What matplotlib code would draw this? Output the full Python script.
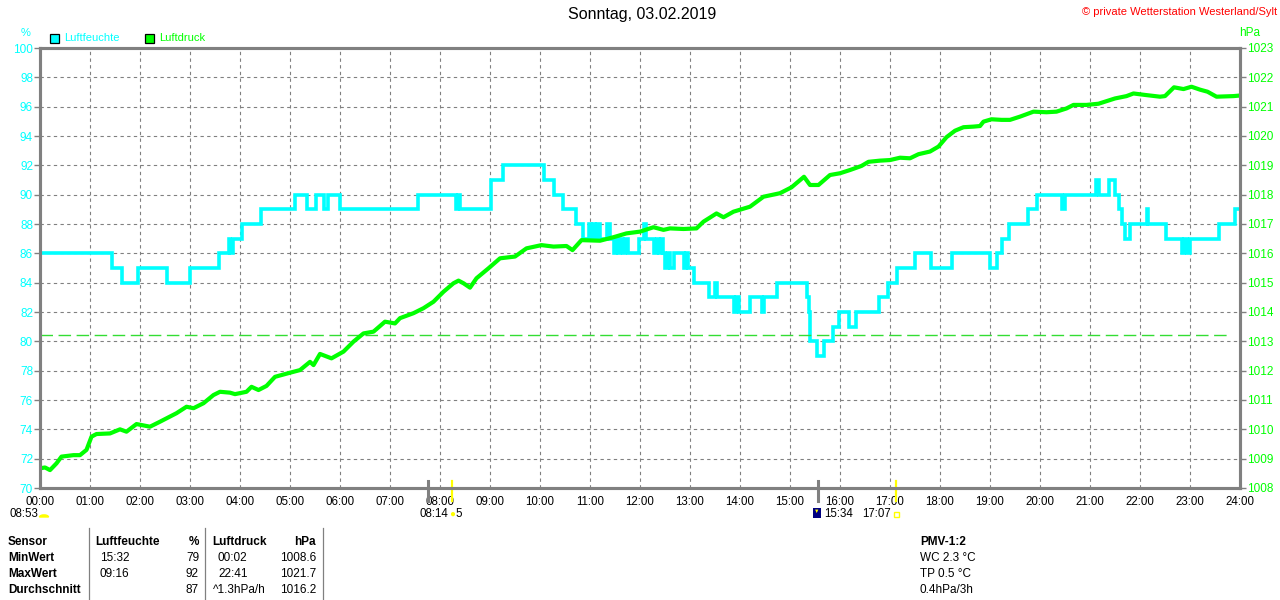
import matplotlib.pyplot as plt
from matplotlib.patches import Rectangle, Wedge

plt.rcParams['font.family'] = ['Liberation Sans', 'DejaVu Sans']

CYAN = '#00FFFF'
GREEN = '#00FF00'
GRAY = '#808080'

# Luftfeuchte (%) - Zeitpunkte der Stufenwechsel in Stunden
hum_time = [0.00, 1.43, 1.63, 1.95, 2.53, 3.00, 3.58, 3.77, 3.80, 3.85, 4.04, 4.41,
            5.10, 5.33, 5.52, 5.68, 5.75, 6.00, 7.55, 8.32, 8.36, 8.40, 9.01, 9.25,
            10.08, 10.28, 10.45, 10.71, 10.85, 10.98, 11.02, 11.05, 11.10, 11.13, 11.20,
            11.33, 11.40, 11.47, 11.52, 11.56, 11.60, 11.65, 11.70, 11.75, 11.97, 12.08,
            12.12, 12.27, 12.33, 12.38, 12.42, 12.46, 12.50, 12.55, 12.60, 12.67, 12.87,
            12.92, 12.96, 13.07, 13.37, 13.50, 13.53, 13.87, 13.92, 13.97, 14.20, 14.43,
            14.48, 14.73, 15.33, 15.37, 15.40, 15.53, 15.67, 15.85, 15.97, 16.17, 16.32,
            16.77, 16.95, 17.13, 17.50, 17.83, 18.23, 19.00, 19.13, 19.23, 19.37, 19.75,
            19.93, 20.43, 20.50, 21.12, 21.17, 21.37, 21.49, 21.57, 21.63, 21.70, 21.80,
            22.13, 22.16, 22.51, 22.83, 22.88, 22.93, 23.00, 23.57, 23.90, 24.00]
hum_value = [86, 85, 84, 85, 84, 85, 86, 87, 86, 87, 88, 89,
             90, 89, 90, 89, 90, 89, 90, 89, 90, 89, 91, 92,
             91, 90, 89, 88, 87, 88, 87, 88, 87, 88, 87,
             88, 87, 86, 87, 86, 87, 86, 87, 86, 87, 88,
             87, 86, 87, 86, 87, 86, 85, 86, 85, 86, 85,
             86, 85, 84, 83, 84, 83, 82, 83, 82, 83, 82,
             83, 84, 83, 82, 80, 79, 80, 81, 82, 81, 82,
             83, 84, 85, 86, 85, 86, 85, 86, 87, 88, 89,
             90, 89, 90, 91, 90, 91, 90, 89, 88, 87, 88,
             89, 88, 87, 86, 87, 86, 87, 88, 89, 89]

# Luftdruck (hPa)
pres_time = [0.00, 0.10, 0.20, 0.33, 0.43, 0.67, 0.80, 0.93, 1.03, 1.13, 1.40, 1.60,
             1.73, 1.93, 2.20, 2.40, 2.73, 2.93, 3.07, 3.27, 3.47, 3.60, 3.80, 3.90,
             4.13, 4.23, 4.37, 4.53, 4.70, 5.00, 5.20, 5.40, 5.47, 5.60, 5.83, 6.07,
             6.27, 6.47, 6.67, 6.90, 7.10, 7.20, 7.47, 7.67, 7.87, 8.07, 8.27, 8.37,
             8.47, 8.60, 8.73, 8.97, 9.20, 9.50, 9.73, 10.03, 10.27, 10.53, 10.65, 10.83,
             11.20, 11.47, 11.73, 12.00, 12.27, 12.47, 12.60, 12.87, 13.13, 13.27, 13.53,
             13.67, 13.87, 14.20, 14.47, 14.80, 15.03, 15.28, 15.40, 15.57, 15.80, 16.00,
             16.20, 16.43, 16.57, 16.80, 17.00, 17.20, 17.40, 17.57, 17.80, 17.97, 18.13,
             18.30, 18.47, 18.67, 18.80, 18.87, 19.03, 19.23, 19.40, 19.60, 19.87, 20.13,
             20.33, 20.53, 20.67, 20.93, 21.17, 21.50, 21.73, 21.87, 22.10, 22.40, 22.50,
             22.68, 22.87, 23.03, 23.20, 23.35, 23.53, 23.87, 24.00]
pres_value = [1008.67, 1008.70, 1008.61, 1008.84, 1009.07, 1009.12, 1009.12, 1009.30, 1009.75,
              1009.84, 1009.86, 1010.00, 1009.92, 1010.18, 1010.09, 1010.26, 1010.55, 1010.77,
              1010.72, 1010.89, 1011.17, 1011.28, 1011.25, 1011.20, 1011.28, 1011.45, 1011.34,
              1011.48, 1011.79, 1011.93, 1012.02, 1012.30, 1012.19, 1012.57, 1012.42, 1012.65,
              1012.99, 1013.27, 1013.33, 1013.67, 1013.61, 1013.79, 1013.96, 1014.13, 1014.35,
              1014.69, 1014.98, 1015.07, 1014.98, 1014.83, 1015.15, 1015.49, 1015.83, 1015.89,
              1016.17, 1016.28, 1016.23, 1016.25, 1016.11, 1016.45, 1016.43, 1016.55, 1016.68,
              1016.74, 1016.89, 1016.80, 1016.85, 1016.83, 1016.85, 1017.08, 1017.36, 1017.23,
              1017.42, 1017.59, 1017.93, 1018.05, 1018.25, 1018.61, 1018.33, 1018.33, 1018.67,
              1018.73, 1018.84, 1018.98, 1019.12, 1019.16, 1019.18, 1019.26, 1019.24, 1019.38,
              1019.47, 1019.64, 1019.96, 1020.18, 1020.30, 1020.32, 1020.34, 1020.49, 1020.57,
              1020.55, 1020.55, 1020.66, 1020.83, 1020.81, 1020.83, 1020.94, 1021.06, 1021.06,
              1021.10, 1021.28, 1021.36, 1021.45, 1021.40, 1021.34, 1021.36, 1021.66, 1021.60,
              1021.68, 1021.58, 1021.51, 1021.34, 1021.36, 1021.38]

ref_pressure = 1013.22
hour_labels = ['%02d:00' % h for h in range(25)]

# Sonnen-/Mondmarken an der Zeitachse (Stunde, Farbe)
event_time = [7.76, 8.24, 15.56, 17.12]
event_color = [GRAY, '#FFFF00', GRAY, '#FFFF00']

# Tabelle unten
table_rows = ['Sensor', 'MinWert', 'MaxWert', 'Durchschnitt']
hum_col_time = ['Luftfeuchte', '15:32', '09:16', '']
hum_col_val = ['%', '79', '92', '87']
pres_col_time = ['Luftdruck', '00:02', '22:41', '^1.3hPa/h']
pres_col_val = ['hPa', '1008.6', '1021.7', '1016.2']
pmv_lines = ['PMV-1:2', 'WC 2.3 °C', 'TP 0.5 °C', '0.4hPa/3h']

W, H = 1280, 600
fig = plt.figure(figsize=(W / 100, H / 100), dpi=100)
ax = fig.add_axes([40 / W, 1 - 488 / H, 1200 / W, 440 / H])
ax2 = ax.twinx()


def px(x, y):
    return x / W, 1 - y / H


# Gitter
ax.set_xlim(0, 24)
ax.set_ylim(70, 100)
ax.set_xticks(range(25))
ax.set_xticklabels(hour_labels)
ax.set_yticks(range(70, 101, 2))
ax.grid(True, color=GRAY, linestyle=(0, (3, 3)), linewidth=0.8)
ax.tick_params(axis='x', length=0, pad=6, labelsize=8.3, colors='black')
ax.tick_params(axis='y', length=4, width=1, color=GRAY, labelsize=8.5, labelcolor=CYAN, pad=1)

ax2.set_ylim(1008, 1023)
ax2.set_yticks(range(1008, 1024))
ax2.tick_params(axis='y', length=4, width=1, color=GRAY, labelsize=8.5, labelcolor=GREEN, pad=1)

for a in (ax, ax2):
    for s in a.spines.values():
        s.set_color(GRAY)
        s.set_linewidth(2.2)

# Daten
ax.plot(hum_time, hum_value, drawstyle='steps-post', color=CYAN, linewidth=2.6,
        solid_joinstyle='miter')
ax2.axhline(ref_pressure, xmin=0, xmax=(1230 - 40) / 1200, color='#33DD33',
            linewidth=1, linestyle=(0, (9, 4)))
ax2.plot(pres_time, pres_value, color=GREEN, linewidth=3.0)

# Marken an der Zeitachse
trans = ax.get_xaxis_transform()
for t, c in zip(event_time, event_color):
    lw = 2.2 if c == GRAY else 1.6
    ax.plot([t, t], [0.015, -0.03], color=c, linewidth=lw, transform=trans, clip_on=False)

# Titel und Beschriftungen
fig.text(*px(642, 15), 'Sonntag, 03.02.2019', ha='center', va='center', fontsize=11.5)
fig.text(*px(1277, 12), '© private Wetterstation Westerland/Sylt', ha='right', va='center',
         fontsize=8, color='#FF0000')
fig.text(*px(26, 33), '%', ha='center', va='center', fontsize=8, color=CYAN)
fig.text(*px(1250, 33), 'hPa', ha='center', va='center', fontsize=8.5, color=GREEN)

# Legende
for x0, label, col in [(50, 'Luftfeuchte', CYAN), (145, 'Luftdruck', GREEN)]:
    fig.patches.append(Rectangle(px(x0, 43), 9 / W, 9 / H, transform=fig.transFigure,
                                 facecolor=col, edgecolor='black', linewidth=0.9))
    fig.text(*px(x0 + 14, 38), label, ha='left', va='center', fontsize=8, color=col)

# Sonnenauf-/untergang
fig.text(*px(10, 514), '08:53', ha='left', va='center', fontsize=8.3)
fig.patches.append(Wedge(px(44, 517), 4.5 / W, 0, 180,
                         transform=fig.transFigure, color='#FFFF00'))
fig.text(*px(419, 514), '08:14', ha='left', va='center', fontsize=8.3)
fig.text(*px(455, 514), '5', ha='left', va='center', fontsize=8.3)
fig.text(*px(452, 514), '●', ha='center', va='center', fontsize=7, color='#FFFF00')
fig.patches.append(Rectangle(px(813, 518), 8 / W, 10 / H, transform=fig.transFigure,
                             facecolor='#000080', edgecolor='none'))
fig.text(*px(817, 511), '▼', ha='center', va='center', fontsize=4, color='#FFFF00')
fig.text(*px(824, 514), '15:34', ha='left', va='center', fontsize=8.3)
fig.text(*px(862, 514), '17:07', ha='left', va='center', fontsize=8.3)
fig.patches.append(Rectangle(px(894, 517), 5 / W, 5 / H, transform=fig.transFigure,
                             facecolor='none', edgecolor='#FFFF00', linewidth=1))

# Tabelle
row_y = [542, 558, 574, 590]
for i, y in enumerate(row_y):
    fig.text(*px(8, y), table_rows[i], ha='left', va='center', fontsize=8.5, fontweight='bold')
    bold = 'bold' if i == 0 else 'normal'
    x_ht = 95 if i == 0 else 100
    x_pt = 212 if i == 0 else 218
    if i == 3:
        x_pt = 213
    fig.text(*px(x_ht, y), hum_col_time[i], ha='left', va='center', fontsize=8.5, fontweight=bold)
    fig.text(*px(199, y), hum_col_val[i], ha='right', va='center', fontsize=8.5, fontweight=bold)
    fig.text(*px(x_pt, y), pres_col_time[i], ha='left', va='center', fontsize=8.5, fontweight=bold)
    fig.text(*px(316, y), pres_col_val[i], ha='right', va='center', fontsize=8.5, fontweight=bold)
    fig.text(*px(920, y), pmv_lines[i], ha='left', va='center', fontsize=8.5, fontweight=bold)

for xs in [89, 205, 323]:
    fig.add_artist(plt.Line2D([xs / W, xs / W], [1 - 528 / H, 0], color=GRAY, linewidth=0.9,
                              transform=fig.transFigure))

fig.savefig('out.png', dpi=100)
